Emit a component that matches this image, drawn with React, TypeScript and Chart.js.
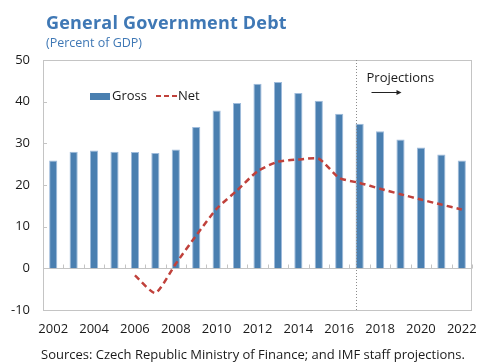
import React, { useEffect, useRef } from "react";
import { Chart, registerables } from "chart.js";

Chart.register(...registerables);

const years = ["2002","2003","2004","2005","2006","2007","2008","2009","2010","2011","2012","2013","2014","2015","2016","2017","2018","2019","2020","2021","2022"];
const gross = [25.9, 28.0, 28.3, 28.0, 27.9, 27.7, 28.5, 33.9, 37.9, 39.7, 44.3, 44.7, 42.1, 40.2, 37.1, 34.7, 32.9, 30.9, 29.0, 27.3, 25.9];
const net = [null, null, null, null, -1.7, -5.9, 1.1, 7.9, 14.3, 18.7, 23.3, 25.6, 26.1, 26.3, 21.7, 20.5, 19.1, 17.8, 16.5, 15.3, 14.1];
const yMin = -10;
const yMax = 50;
const yStep = 10;
const projectionStart = "2017";
const projectionLabel = "Projections";
const title = "General Government Debt";
const subtitle = "(Percent of GDP)";
const sources = "Sources: Czech Republic Ministry of Finance; and IMF staff projections.";

const FONT = "'Open Sans', 'Noto Sans', sans-serif";
const BAR_COLOR = "#4a7fb0";
const LINE_COLOR = "#c0413b";
const AXIS_COLOR = "#c4c4c4";
const TEXT_COLOR = "#1a1a1a";
const BLUE_TEXT = "#3f78b5";

const overlay = {
  id: "overlay",
  beforeDatasetsDraw(chart: any) {
    const { ctx, chartArea: a, scales } = chart;
    const x = scales.x;
    const y = scales.y;
    ctx.save();
    ctx.strokeStyle = AXIS_COLOR;
    ctx.lineWidth = 1;
    ctx.strokeRect(a.left + 0.5, a.top + 0.5, a.right - a.left - 1, a.bottom - a.top);
    const y0 = Math.round(y.getPixelForValue(0)) + 0.5;
    ctx.beginPath();
    ctx.moveTo(a.left, y0);
    ctx.lineTo(a.right, y0);
    const step = x.getPixelForValue(1) - x.getPixelForValue(0);
    for (let i = 0; i <= years.length; i++) {
      const px = Math.round(x.getPixelForValue(0) - step / 2 + i * step) + 0.5;
      ctx.moveTo(px, y0);
      ctx.lineTo(px, y0 - 4);
    }
    for (let v = yMin; v <= yMax; v += yStep) {
      const py = Math.round(y.getPixelForValue(v)) + 0.5;
      ctx.moveTo(a.left, py);
      ctx.lineTo(a.left + 4, py);
    }
    ctx.stroke();
    ctx.restore();
  },
  afterDraw(chart: any) {
    const { ctx, chartArea: a, scales } = chart;
    const x = scales.x;
    const step = x.getPixelForValue(1) - x.getPixelForValue(0);
    const pIdx = years.indexOf(projectionStart);
    const px = Math.round(x.getPixelForValue(pIdx) - step * 0.19) + 0.5;
    ctx.save();
    ctx.strokeStyle = "#8c8c8c";
    ctx.lineWidth = 1;
    ctx.setLineDash([1, 2]);
    ctx.beginPath();
    ctx.moveTo(px, a.top);
    ctx.lineTo(px, a.bottom);
    ctx.stroke();
    ctx.setLineDash([]);
    // Projections label and arrow
    ctx.fillStyle = TEXT_COLOR;
    ctx.font = `13px ${FONT}`;
    ctx.textBaseline = "middle";
    ctx.textAlign = "left";
    ctx.fillText(projectionLabel, px + 10, a.top + 18);
    const ay = a.top + 32.5;
    ctx.strokeStyle = "#222";
    ctx.beginPath();
    ctx.moveTo(px + 15, ay);
    ctx.lineTo(px + 42, ay);
    ctx.stroke();
    ctx.fillStyle = "#222";
    ctx.beginPath();
    ctx.moveTo(px + 45, ay);
    ctx.lineTo(px + 40, ay - 2.5);
    ctx.lineTo(px + 40, ay + 2.5);
    ctx.closePath();
    ctx.fill();
    // Legend
    const ly = a.top + 36;
    const ds0 = chart.data.datasets[0];
    const ds1 = chart.data.datasets[1];
    ctx.fillStyle = ds0.backgroundColor;
    ctx.fillRect(a.left + 47, ly - 3, 20, 7);
    ctx.fillStyle = TEXT_COLOR;
    ctx.font = `13px ${FONT}`;
    ctx.fillText(ds0.label, a.left + 69, ly);
    ctx.strokeStyle = ds1.borderColor;
    ctx.lineWidth = 2;
    ctx.setLineDash([5, 3]);
    ctx.beginPath();
    ctx.moveTo(a.left + 113, ly);
    ctx.lineTo(a.left + 134, ly);
    ctx.stroke();
    ctx.setLineDash([]);
    ctx.fillText(ds1.label, a.left + 135, ly);
    ctx.restore();
  },
};

export default function App() {
  const ref = useRef<HTMLCanvasElement | null>(null);
  useEffect(() => {
    if (!ref.current) return;
    const chart = new Chart(ref.current, {
      type: "bar",
      data: {
        labels: years,
        datasets: [
          {
            type: "bar",
            label: "Gross",
            data: gross,
            backgroundColor: BAR_COLOR,
            borderColor: "#9fbcdc",
            borderWidth: { top: 1, left: 1, right: 1, bottom: 0 },
            barPercentage: 0.4,
            categoryPercentage: 1,
            order: 2,
          } as any,
          {
            type: "line",
            label: "Net",
            data: net,
            borderColor: LINE_COLOR,
            backgroundColor: LINE_COLOR,
            borderWidth: 2.5,
            borderDash: [6, 4],
            pointRadius: 0,
            tension: 0.2,
            spanGaps: false,
            order: 1,
          } as any,
        ],
      },
      options: {
        responsive: false,
        animation: false,
        devicePixelRatio: 1,
        layout: { padding: { top: 60, right: 5, left: 0, bottom: 0 } },
        plugins: { legend: { display: false }, tooltip: { enabled: false }, title: { display: false } },
        scales: {
          x: {
            grid: { display: false, drawTicks: false },
            border: { display: false },
            ticks: {
              autoSkip: false,
              maxRotation: 0,
              padding: 11,
              color: TEXT_COLOR,
              font: { family: FONT, size: 13 },
              callback: (_v: any, i: number) => (i % 2 === 0 ? years[i] : ""),
            },
            afterFit: (s: any) => { s.height = 52; s.paddingLeft = 0; s.paddingRight = 0; },
          },
          y: {
            min: yMin,
            max: yMax,
            grid: { display: false, drawTicks: false },
            border: { display: false },
            ticks: { stepSize: yStep, padding: 13, color: TEXT_COLOR, font: { family: FONT, size: 13 } },
            afterFit: (s: any) => { s.width = 43; s.paddingTop = 0; s.paddingBottom = 0; },
          },
        },
      },
      plugins: [overlay],
    });
    return () => chart.destroy();
  }, []);
  return (
    <div style={{ position: "fixed", left: 0, top: 0, width: 477, height: 362, background: "#fff", overflow: "hidden", fontFamily: FONT }}>
      <canvas ref={ref} width={477} height={362} style={{ position: "absolute", left: 0, top: 0 }} />
      <div style={{ position: "absolute", left: 46, top: 11, fontSize: 18, fontWeight: 700, letterSpacing: "0.2px", color: BLUE_TEXT, lineHeight: "22px", whiteSpace: "nowrap" }}>{title}</div>
      <div style={{ position: "absolute", left: 46, top: 35, fontSize: 12.5, color: BLUE_TEXT, lineHeight: "16px", whiteSpace: "nowrap" }}>{subtitle}</div>
      <div style={{ position: "absolute", left: 41, top: 345, fontSize: 13, color: TEXT_COLOR, lineHeight: "18px", whiteSpace: "nowrap" }}>{sources}</div>
    </div>
  );
}
